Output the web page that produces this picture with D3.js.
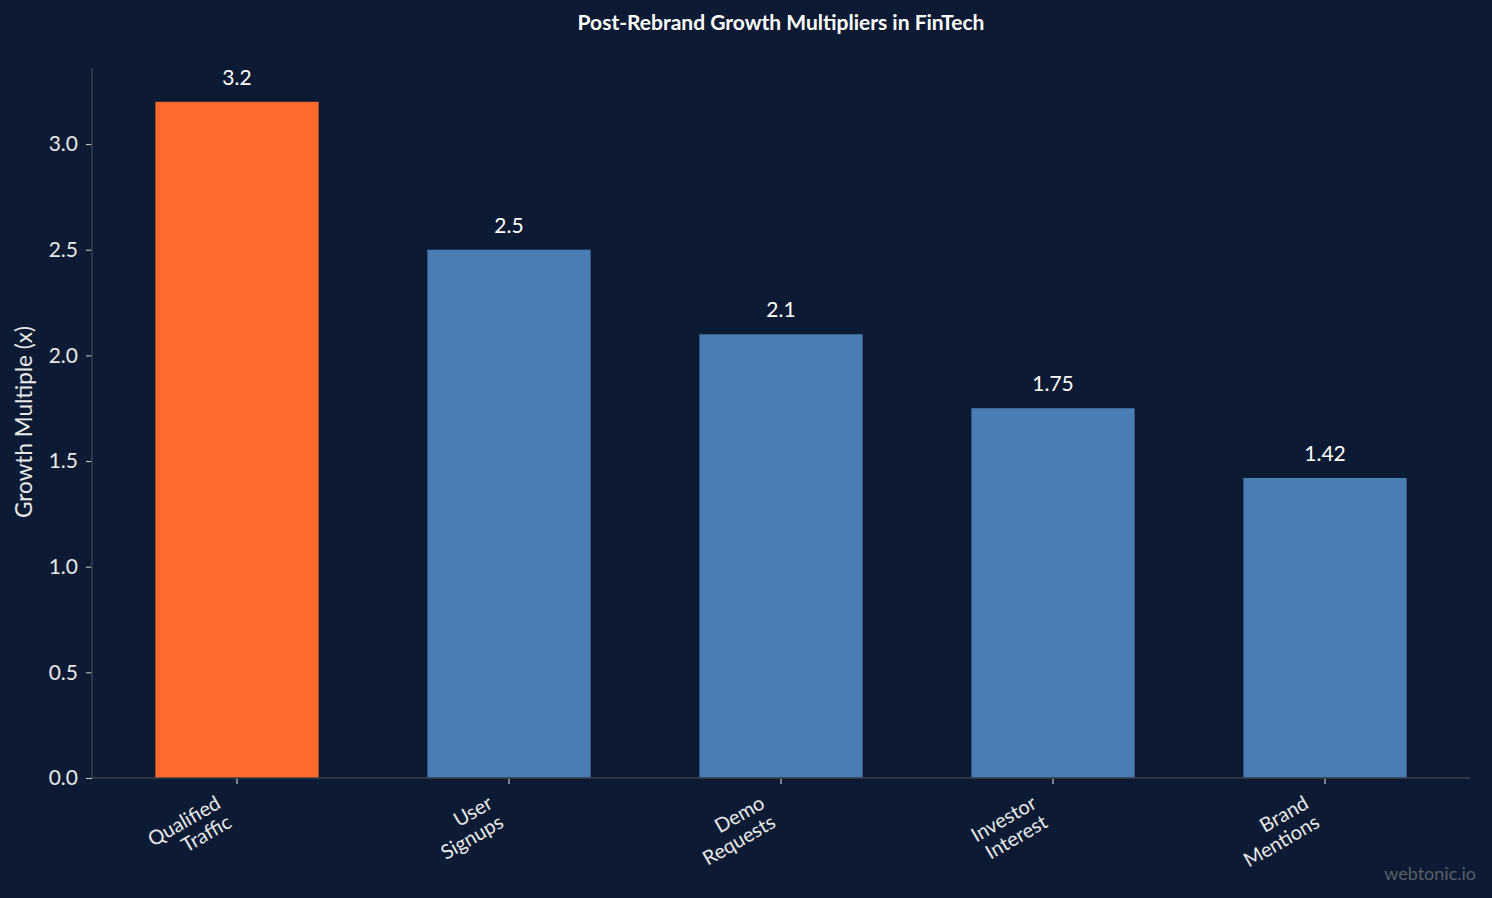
<!DOCTYPE html>
<html>
<head>
<meta charset="utf-8">
<script src="https://cdn.jsdelivr.net/npm/d3@7"></script>
<style>
  body { margin: 0; background: #0c1b33; }
  svg { display: block; font-family: Lato, "Open Sans", sans-serif; }
</style>
</head>
<body>
<div id="chart"></div>
<script>
// data
var categories = ["Qualified\nTraffic", "User\nSignups", "Demo\nRequests", "Investor\nInterest", "Brand\nMentions"];
var values = [3.2, 2.5, 2.1, 1.75, 1.42];
var valueLabels = ["3.2", "2.5", "2.1", "1.75", "1.42"];
var yTicks = [0, 0.5, 1.0, 1.5, 2.0, 2.5, 3.0];

var W = 1492, H = 898;
var svg = d3.select("#chart").append("svg")
  .attr("width", W).attr("height", H);

svg.append("rect").attr("width", W).attr("height", H).attr("fill", "#0c1b33");

var x = d3.scaleBand().domain(categories).range([101, 1461])
  .paddingInner(0.4).paddingOuter(0.2);
var y = d3.scaleLinear().domain([0, 3.36]).range([778, 68]);

// title
svg.append("text").attr("x", 781).attr("y", 30)
  .attr("text-anchor", "middle").attr("fill", "#ffffff")
  .attr("font-size", 21).attr("font-weight", "bold")
  .text("Post-Rebrand Growth Multipliers in FinTech");

// bars
svg.selectAll("rect.bar").data(values).enter().append("rect")
  .attr("class", "bar")
  .attr("x", function(d, i) { return x(categories[i]); })
  .attr("width", x.bandwidth())
  .attr("y", function(d) { return y(d); })
  .attr("height", function(d) { return y(0) - y(d); })
  .attr("fill", function(d, i) { return i == 0 ? "#ff6b2c" : "#4a7db4"; });

// value labels
svg.selectAll("text.val").data(values).enter().append("text")
  .attr("class", "val")
  .attr("x", function(d, i) { return x(categories[i]) + x.bandwidth() / 2; })
  .attr("y", function(d) { return y(d) - 17; })
  .attr("text-anchor", "middle").attr("fill", "#ffffff")
  .attr("font-size", 21)
  .text(function(d, i) { return valueLabels[i]; });

// y axis
var yAxis = svg.append("g").attr("transform", "translate(92,0)")
  .call(d3.axisLeft(y).tickValues(yTicks).tickFormat(d3.format(".1f")).tickSize(6).tickPadding(8));
yAxis.select(".domain").remove();
yAxis.selectAll(".tick line").attr("stroke", "#cfcfcf");
yAxis.selectAll(".tick text").attr("fill", "#e8e8e8").attr("font-size", 21)
  .attr("font-family", "Lato, sans-serif");

// x axis
var xAxis = svg.append("g").attr("transform", "translate(0,778)")
  .call(d3.axisBottom(x).tickSize(6).tickFormat(""));
xAxis.select(".domain").remove();
xAxis.selectAll(".tick line").attr("stroke", "#e8e8e8");

// spines
svg.append("line").attr("x1", 92).attr("x2", 92).attr("y1", 68).attr("y2", 778)
  .attr("stroke", "#3a3f48").attr("stroke-width", 1.5);
svg.append("line").attr("x1", 92).attr("x2", 1470).attr("y1", 778).attr("y2", 778)
  .attr("stroke", "#3a3f48").attr("stroke-width", 1.5);

// x tick labels, rotated
categories.forEach(function(c, i) {
  var cx = x(c) + x.bandwidth() / 2;
  var lines = c.split("\n");
  var t = svg.append("text")
    .attr("transform", "translate(" + (cx - 22) + "," + 795 + ") rotate(-30)")
    .attr("text-anchor", "end").attr("fill", "#e8e8e8").attr("font-size", 20);
  lines.forEach(function(l, j) {
    t.append("tspan").attr("x", 0).attr("dy", j == 0 ? "0.7em" : "1.1em").text(l);
  });
});

// y label
svg.append("text")
  .attr("transform", "translate(32,422) rotate(-90)")
  .attr("text-anchor", "middle").attr("fill", "#e8e8e8")
  .attr("font-size", 22.5)
  .text("Growth Multiple (x)");

// watermark
svg.append("text").attr("x", 1476).attr("y", 880)
  .attr("text-anchor", "end").attr("fill", "#5a5f66")
  .attr("font-size", 18).text("webtonic.io");
</script>
</body>
</html>
